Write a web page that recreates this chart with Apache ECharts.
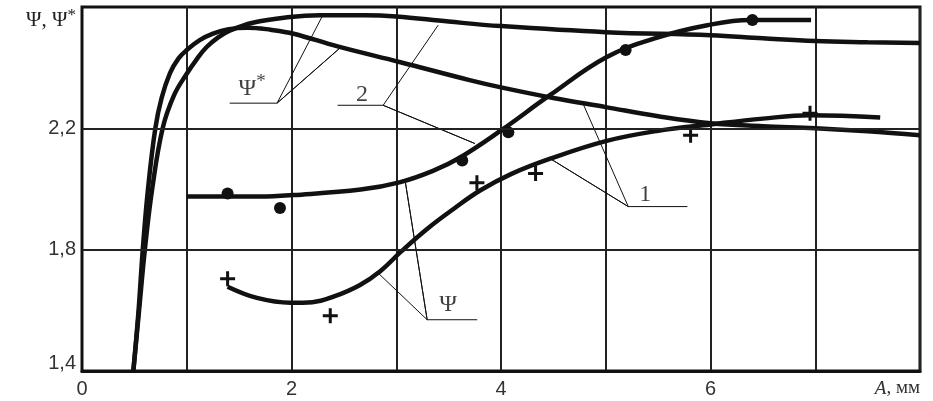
<!DOCTYPE html>
<html>
<head>
<meta charset="utf-8">
<script src="https://cdn.jsdelivr.net/npm/echarts@6/dist/echarts.min.js"></script>
<style>
  html, body { margin: 0; background: #fff; }
  #chart { width: 933px; height: 401px; }
</style>
</head>
<body>
<div id="chart"></div>
<script>
  // curves, [A mm, value]
  const psiStar1 = [[0.49, 1.4], [0.54, 1.6], [0.58, 1.8], [0.63, 2.0], [0.70, 2.2], [0.76, 2.3],
    [0.84, 2.382], [0.92, 2.43], [1.0, 2.458], [1.12, 2.49], [1.25, 2.512], [1.4, 2.527], [1.58, 2.532],
    [1.8, 2.525], [2.02, 2.512], [2.44, 2.47], [3.04, 2.418], [3.7, 2.359], [4.0, 2.335], [4.5, 2.30],
    [5.0, 2.27], [5.5, 2.24], [6.0, 2.217], [6.5, 2.207], [7.0, 2.2], [7.5, 2.19], [8.0, 2.177]];
  const psiStar2 = [[0.49, 1.4], [0.545, 1.6], [0.60, 1.8], [0.67, 2.0], [0.77, 2.2], [0.88, 2.31],
    [1.0, 2.38], [1.1, 2.43], [1.19, 2.468], [1.3, 2.5], [1.41, 2.522], [1.63, 2.548], [1.96, 2.566],
    [2.27, 2.573], [2.7, 2.573], [3.0, 2.569], [3.5, 2.552], [4.0, 2.537], [5.0, 2.517], [6.0, 2.507],
    [6.5, 2.497], [7.0, 2.488], [7.5, 2.484], [8.0, 2.481]];
  const psi2 = [[1.0, 1.975], [1.7, 1.975], [2.02, 1.98], [2.66, 1.998], [3.03, 2.022], [3.35, 2.06],
    [3.61, 2.104], [4.0, 2.193], [4.47, 2.31], [5.01, 2.435], [5.5, 2.5], [5.97, 2.54], [6.38, 2.557],
    [6.96, 2.557]];
  const psi1 = [[1.39, 1.678], [1.67, 1.641], [1.99, 1.625], [2.2, 1.627], [2.4, 1.645], [2.65, 1.683],
    [2.85, 1.73], [3.05, 1.795], [3.3, 1.87], [3.55, 1.935], [3.8, 1.995], [4.1, 2.05], [4.47, 2.10],
    [5.0, 2.158], [5.5, 2.192], [6.0, 2.213], [6.5, 2.232], [6.95, 2.243], [7.62, 2.236]];

  // experimental points
  const dots2 = [[1.39, 1.985], [1.89, 1.937], [3.63, 2.094], [4.07, 2.187], [5.19, 2.458], [6.40, 2.557]];
  const crosses1 = [[1.39, 1.704], [2.37, 1.582], [3.77, 2.021], [4.33, 2.051], [5.81, 2.177], [6.95, 2.25]];

  // leader lines and their labels
  const leaderPsiStar = [[2.29, 2.567], [1.862, 2.283], [2.46, 2.464], [1.862, 2.283], [1.41, 2.283]];
  const leader2 = [[3.40, 2.54], [2.875, 2.276], [3.75, 2.15], [2.875, 2.276], [2.44, 2.276]];
  const leader1 = [[4.776, 2.287], [5.215, 1.942], [4.47, 2.10], [5.215, 1.942], [5.78, 1.942]];
  const leaderPsi = [[2.83, 1.722], [3.295, 1.569], [3.085, 2.027], [3.295, 1.569], [3.773, 1.569]];
  const labelNames = ['{a|Ψ}{s|*}', '{a|2}', '{a|1}', '{a|Ψ}'];
  const labelPos = [[1.625, 2.332], [2.674, 2.312], [5.377, 1.982], [3.496, 1.618]];

  const yTickLabels = [1.4, 1.8, 2.2];
  const yGridLines = [1.8, 2.2];
  const xTickLabels = [0, 2, 4, 6];

  const INK = '#111';
  const SERIF = 'Liberation Serif, serif';
  const chart = echarts.init(document.getElementById('chart'), null, { renderer: 'canvas' });

  function curve(data) {
    return {
      type: 'line', data: data, smooth: 0.4, symbol: 'none',
      lineStyle: { color: INK, width: 4.5 }, z: 3, silent: true
    };
  }
  function leader(data) {
    return {
      type: 'line', data: data, symbol: 'none', lineStyle: { color: INK, width: 1 }, z: 2, silent: true
    };
  }

  const option = {
    animation: false,
    grid: { left: 82, right: 13, top: 7, bottom: 30, show: true, borderColor: INK, borderWidth: 3 },
    xAxis: {
      type: 'value', min: 0, max: 8, interval: 1,
      axisLine: { show: true, lineStyle: { color: INK, width: 3 } },
      axisTick: { show: false },
      splitLine: { show: true, lineStyle: { color: '#222', width: 2 } },
      axisLabel: {
        color: '#333', fontSize: 20, fontFamily: 'Liberation Sans, Arial, sans-serif', margin: 8,
        alignMaxLabel: 'right',
        formatter: v => v === 8 ? '{i|A}{n|, мм}' : (xTickLabels.includes(v) ? String(v) : ''),
        rich: {
          i: { fontStyle: 'italic', fontFamily: SERIF, fontSize: 19, color: '#333' },
          n: { fontFamily: SERIF, fontSize: 19, color: '#333' }
        }
      }
    },
    yAxis: {
      type: 'value', min: 1.4, max: 2.6, interval: 0.2,
      name: '{a|Ψ, Ψ}{s|*}', nameLocation: 'end', nameGap: 0,
      nameTextStyle: {
        align: 'right', verticalAlign: 'top', padding: [0, 6, 0, 0],
        rich: {
          a: { fontFamily: SERIF, fontSize: 21, color: '#222' },
          s: { fontFamily: SERIF, fontSize: 17, color: '#222', padding: [0, 0, 10, 0] }
        }
      },
      axisLine: { show: true, lineStyle: { color: INK, width: 2 } },
      axisTick: { show: false },
      splitLine: { show: false },
      axisLabel: {
        color: '#333', fontSize: 20, fontFamily: 'Liberation Sans, Arial, sans-serif', margin: 6,
        formatter: v => {
          const t = Math.round(v * 10);
          const hit = yTickLabels.find(y => Math.round(y * 10) === t);
          if (hit === undefined) return '';
          const s = hit.toFixed(1).replace('.', ',');
          return t === 14 ? '{lo|' + s + '}' : s;
        },
        rich: {
          lo: { padding: [0, 0, 16, 0], fontSize: 20, color: '#333', fontFamily: 'Liberation Sans, Arial, sans-serif' }
        }
      }
    },
    series: [
      {
        type: 'line', data: [], silent: true, z: 1,
        markLine: {
          silent: true, symbol: 'none', label: { show: false },
          lineStyle: { color: '#222', width: 2, type: 'solid' },
          data: yGridLines.map(y => ({ yAxis: y }))
        }
      },
      leader(leaderPsiStar), leader(leader2), leader(leader1), leader(leaderPsi),
      curve(psiStar1), curve(psiStar2), curve(psi2), curve(psi1),
      {
        type: 'scatter', data: dots2, symbol: 'circle', symbolSize: 12,
        itemStyle: { color: INK, opacity: 1 }, z: 4, silent: true
      },
      {
        type: 'scatter', data: crosses1, symbol: 'path://M4,0H6V4H10V6H6V10H4V6H0V4H4Z', symbolSize: 15,
        itemStyle: { color: INK, opacity: 1 }, z: 4, silent: true
      },
      {
        type: 'scatter', symbolSize: 1, itemStyle: { color: 'rgba(0,0,0,0)' }, z: 5, silent: true,
        data: labelNames.map((n, i) => ({ name: n, value: labelPos[i] })),
        label: {
          show: true, position: 'inside', formatter: p => p.name,
          rich: {
            a: { fontFamily: SERIF, fontSize: 24, color: '#111' },
            s: { fontFamily: SERIF, fontSize: 19, color: '#111', padding: [0, 0, 12, 0] }
          }
        }
      }
    ]
  };

  chart.setOption(option);
  window.addEventListener('resize', chart.resize);
</script>
</body>
</html>
